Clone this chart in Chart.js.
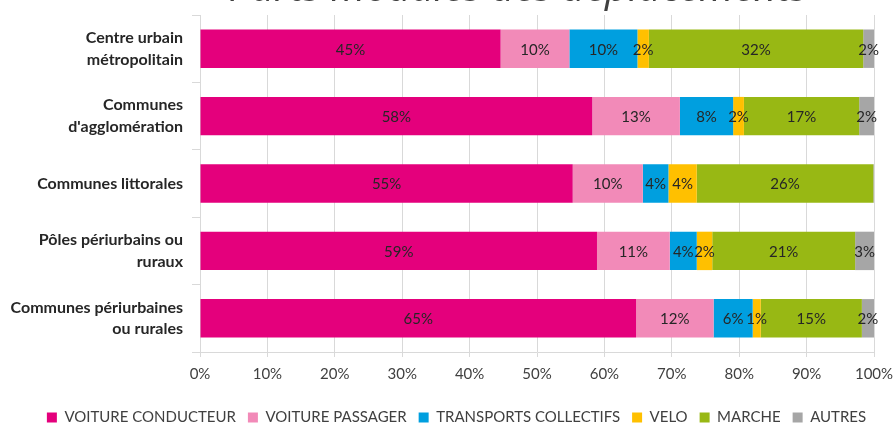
<!DOCTYPE html>
<html lang="fr">
<head>
    <meta charset="UTF-8">
    <title>Parts modales des déplacements</title>
    <script src="https://cdn.jsdelivr.net/npm/chart.js"></script>
    <style>
        body, html {
            margin: 0;
            padding: 0;
            background: #ffffff;
            overflow: hidden;
        }
        .wrap {
            position: relative;
            width: 893px;
            height: 424px;
        }
        .titre {
            position: absolute;
            left: 0;
            width: 1036px;
            top: -34px;
            line-height: 40px;
            text-align: center;
            font-family: 'Open Sans', sans-serif;
            font-style: italic;
            font-size: 40px;
            color: #404040;
            white-space: nowrap;
            z-index: 2;
        }
        canvas {
            position: absolute;
            left: 0;
            top: 0;
        }
    </style>
</head>
<body>
    <div class="wrap">
        <div class="titre">Parts modales des déplacements</div>
        <canvas id="chart" width="893" height="424"></canvas>
    </div>

    <script>
        // Catégories de territoires
        const territoires = [
            ['Centre urbain', 'métropolitain'],
            ['Communes', "d'agglomération"],
            'Communes littorales',
            ['Pôles périurbains ou', 'ruraux'],
            ['Communes périurbaines', 'ou rurales']
        ];

        // Parts modales (%)
        const voitureConducteur = [44.6, 58.2, 55.3, 58.9, 64.7];
        const voiturePassager = [10.2, 13.0, 10.4, 10.8, 11.5];
        const transportsCollectifs = [10.1, 7.9, 3.8, 4.0, 5.8];
        const velo = [1.7, 1.6, 4.2, 2.3, 1.2];
        const marche = [31.8, 17.1, 26.2, 21.2, 15.0];
        const autres = [1.6, 2.2, 0.1, 2.8, 1.8];

        const ticksX = [0, 10, 20, 30, 40, 50, 60, 70, 80, 90, 100];

        // Étiquettes au centre de chaque segment
        const etiquettes = {
            id: 'etiquettes',
            afterLayout(chart) {
                // légende un peu décalée vers la droite comme sur l'original
                chart.legend.left += 10;
                chart.legend.right += 10;
            },
            afterDatasetsDraw(chart) {
                const ctx = chart.ctx;
                ctx.save();
                ctx.font = '15px Lato, sans-serif';
                ctx.fillStyle = '#262626';
                ctx.textAlign = 'center';
                ctx.textBaseline = 'middle';
                chart.data.datasets.forEach((ds, i) => {
                    const meta = chart.getDatasetMeta(i);
                    meta.data.forEach((bar, j) => {
                        const v = Math.round(ds.data[j]);
                        if (v < 1) return;
                        ctx.fillText(v + '%', (bar.x + bar.base) / 2, bar.y + 1);
                    });
                });
                ctx.restore();
            }
        };

        new Chart(document.getElementById('chart').getContext('2d'), {
            type: 'bar',
            data: {
                labels: territoires,
                datasets: [
                    { label: 'VOITURE CONDUCTEUR', data: voitureConducteur, backgroundColor: '#e4007c' },
                    { label: 'VOITURE PASSAGER', data: voiturePassager, backgroundColor: '#f28ab8' },
                    { label: 'TRANSPORTS COLLECTIFS', data: transportsCollectifs, backgroundColor: '#009fdf' },
                    { label: 'VELO', data: velo, backgroundColor: '#ffc000' },
                    { label: 'MARCHE', data: marche, backgroundColor: '#98b814' },
                    { label: 'AUTRES', data: autres, backgroundColor: '#a6a6a6' }
                ]
            },
            options: {
                indexAxis: 'y',
                responsive: false,
                animation: false,
                barPercentage: 0.57,
                categoryPercentage: 1,
                layout: {
                    padding: { top: 15, right: 0, left: 0, bottom: -11 }
                },
                scales: {
                    x: {
                        stacked: true,
                        min: 0,
                        max: 100,
                        afterBuildTicks: (scale) => {
                            scale.ticks = ticksX.map(v => ({ value: v }));
                        },
                        afterFit: (scale) => {
                            scale.height = 46;
                            scale.paddingLeft = 0;
                            scale.paddingRight = 19;
                        },
                        grid: {
                            color: '#d9d9d9',
                            tickLength: 5
                        },
                        border: { color: '#d9d9d9' },
                        ticks: {
                            padding: 8,
                            color: '#404040',
                            font: { family: 'Lato, sans-serif', size: 15 },
                            callback: (v) => v + '%'
                        }
                    },
                    y: {
                        stacked: true,
                        afterFit: (scale) => {
                            scale.width = 200;
                            scale.paddingTop = 0;
                            scale.paddingBottom = 0;
                        },
                        grid: {
                            offset: true,
                            drawOnChartArea: false,
                            color: '#d9d9d9',
                            tickLength: 8
                        },
                        border: { color: '#d9d9d9' },
                        ticks: {
                            padding: 9,
                            color: '#262626',
                            font: { family: 'Lato, sans-serif', size: 16, weight: 'bold', lineHeight: 1.35 }
                        }
                    }
                },
                plugins: {
                    legend: {
                        position: 'bottom',
                        labels: {
                            boxWidth: 10,
                            boxHeight: 10,
                            padding: 12,
                            color: '#404040',
                            font: { family: 'Lato, sans-serif', size: 15 }
                        }
                    },
                    tooltip: { enabled: false }
                }
            },
            plugins: [etiquettes]
        });
    </script>
</body>
</html>
